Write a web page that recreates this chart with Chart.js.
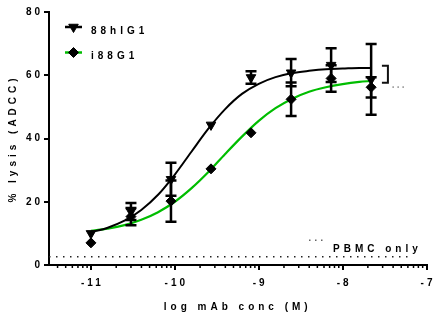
<!DOCTYPE html>
<html>
<head>
<meta charset="utf-8">
<script src="https://cdn.jsdelivr.net/npm/chart.js@4.4.1/dist/chart.umd.min.js"></script>
<style>
  html, body { margin: 0; padding: 0; background: #fff; }
</style>
</head>
<body>
<canvas id="chart1" width="433" height="322"></canvas>
<script>
// log10 mAb concentration (M), 3-fold dilutions
var doses = [-11, -10.523, -10.046, -9.569, -9.092, -8.614, -8.137, -7.66];

// 88hIG1: mean % lysis and error
var hig1Mean = [10.0, 16.9, 27.1, 44.3, 59.3, 60.8, 63.2, 58.7];
var hig1Err  = [0, 2.7, 5.2, 0, 2.0, 4.3, 5.3, 11.2];

// i88G1: mean % lysis and error
var ig1Mean = [7.0, 15.3, 20.2, 30.4, 41.8, 52.4, 59.0, 56.2];
var ig1Err  = [0, 2.7, 6.5, 0, 0, 5.3, 4.2, 3.2];

// fitted dose-response curves
var fitDoses = [-11, -10.8, -10.6, -10.4, -10.2, -10, -9.8, -9.6, -9.4, -9.2, -9, -8.8, -8.6, -8.4, -8.2, -8, -7.8, -7.66];
var hig1Fit  = [10.4, 11.8, 14.0, 17.4, 22.2, 28.6, 35.9, 43.1, 49.3, 54.1, 57.3, 59.4, 60.7, 61.4, 61.9, 62.1, 62.3, 62.3];
var ig1Fit   = [10.8, 11.5, 12.6, 14.3, 16.7, 20.0, 24.3, 29.4, 35.1, 40.6, 45.6, 49.6, 52.6, 54.8, 56.2, 57.2, 57.9, 58.2];

// PBMC only background
var pbmcDoses = [-11.5, -7.2];
var pbmcLysis = [2.6, 2.6];

var seriesNames = ['88hIG1', 'i88G1'];
var xTicks = [-11, -10, -9, -8, -7];
var xTickLabels = ['-11', '-10', '-9', '-8', '-7'];
var yTicks = [0, 20, 40, 60, 80];
var yTickLabels = ['0', '20', '40', '60', '80'];

var GREEN = '#00bd00';
var FONT = "'Liberation Sans', Arial, sans-serif";

function pts(xs, ys) {
  return xs.map(function(x, i) { return {x: x, y: ys[i]}; });
}

var extras = {
  id: 'extras',
  afterLayout: function(chart) {
    // titles get a little more letter spacing than tick labels
    Object.keys(chart.scales).forEach(function(k) {
      var s = chart.scales[k];
      if (s._spaced) return;
      var drawTitle = s.drawTitle;
      s.drawTitle = function() {
        var c = this.ctx, prev = c.letterSpacing;
        c.letterSpacing = '4px';
        drawTitle.apply(this, arguments);
        c.letterSpacing = prev;
      };
      s._spaced = true;
    });
  },
  beforeDraw: function(chart) {
    chart.ctx.letterSpacing = '3px';
  },
  beforeDatasetDraw: function(chart, args) {
    if (args.index !== 1) return;
    // error bars, under both marker sets
    var ctx = chart.ctx, xs = chart.scales.x, ys = chart.scales.y;
    ctx.save();
    ctx.strokeStyle = '#000';
    ctx.lineWidth = 2.5;
    [[hig1Mean, hig1Err], [ig1Mean, ig1Err]].forEach(function(s) {
      doses.forEach(function(d, i) {
        if (!s[1][i]) return;
        var px = xs.getPixelForValue(d);
        var top = ys.getPixelForValue(s[0][i] + s[1][i]);
        var bot = ys.getPixelForValue(s[0][i] - s[1][i]);
        ctx.beginPath();
        ctx.moveTo(px, top); ctx.lineTo(px, bot);
        ctx.moveTo(px - 5.5, top); ctx.lineTo(px + 5.5, top);
        ctx.moveTo(px - 5.5, bot); ctx.lineTo(px + 5.5, bot);
        ctx.stroke();
      });
    });
    ctx.restore();
  },
  afterDraw: function(chart) {
    var ctx = chart.ctx, xs = chart.scales.x, ys = chart.scales.y;
    var area = chart.chartArea;
    ctx.save();

    // minor log ticks on the x axis
    ctx.strokeStyle = '#000';
    ctx.lineWidth = 1.5;
    ctx.beginPath();
    for (var dec = -12; dec < -7; dec++) {
      for (var k = 2; k <= 9; k++) {
        var v = dec + Math.log10(k);
        if (v < xs.min || v > xs.max) continue;
        var px = xs.getPixelForValue(v);
        ctx.moveTo(px, area.bottom);
        ctx.lineTo(px, area.bottom + 3);
      }
    }
    ctx.stroke();

    // legend
    var ds = chart.data.datasets;
    var rows = [
      {y: 27, line: ds[2].borderColor, marker: ds[0], name: seriesNames[0]},
      {y: 52.5, line: ds[3].borderColor, marker: ds[1], name: seriesNames[1]}
    ];
    ctx.font = 'bold 10px ' + FONT;
    ctx.letterSpacing = '4px';
    ctx.textBaseline = 'alphabetic';
    ctx.textAlign = 'left';
    rows.forEach(function(r) {
      ctx.strokeStyle = r.line;
      ctx.lineWidth = 2.5;
      ctx.beginPath();
      ctx.moveTo(65, r.y); ctx.lineTo(82, r.y);
      ctx.stroke();
      ctx.fillStyle = '#000';
      ctx.strokeStyle = '#000';
      ctx.lineWidth = 1;
      Chart.helpers.drawPoint(ctx, {
        pointStyle: r.marker.pointStyle,
        rotation: r.marker.rotation || 0,
        radius: r.marker.pointRadius,
        borderWidth: 1
      }, 73.5, r.y);
      ctx.fillText(r.name, 91, r.y + 6.6);
    });

    // bracket between the two plateaus
    var bx = xs.getPixelForValue(-7.46);
    var bTop = ys.getPixelForValue(63);
    var bBot = ys.getPixelForValue(57.6);
    ctx.strokeStyle = '#111';
    ctx.lineWidth = 2;
    ctx.beginPath();
    ctx.moveTo(bx - 6, bTop); ctx.lineTo(bx, bTop);
    ctx.lineTo(bx, bBot); ctx.lineTo(bx - 6, bBot);
    ctx.stroke();
    ctx.fillStyle = '#888';
    [5, 10, 15].forEach(function(dx) { ctx.fillRect(bx + dx - 0.5, bBot + 3.5, 1.5, 1.5); });

    // PBMC only label
    ctx.fillStyle = '#666';
    [309, 315, 321].forEach(function(x) { ctx.fillRect(x, 239.5, 1.5, 1.5); });
    ctx.fillStyle = '#000';
    ctx.fillText('PBMC only', 333, 252.3);

    ctx.restore();
  }
};

var tickFont = {family: FONT, size: 10, weight: 'bold'};

var chart1 = new Chart(document.getElementById('chart1').getContext('2d'), {
  type: 'scatter',
  data: {
    datasets: [
      {
        label: seriesNames[0],
        data: pts(doses, hig1Mean),
        showLine: false,
        pointStyle: 'triangle',
        rotation: 180,
        pointRadius: 5.5,
        backgroundColor: '#000',
        borderColor: '#000',
        borderWidth: 1
      },
      {
        label: seriesNames[1],
        data: pts(doses, ig1Mean),
        showLine: false,
        pointStyle: 'rectRot',
        pointRadius: 5,
        backgroundColor: '#000',
        borderColor: '#000',
        borderWidth: 1
      },
      {
        label: seriesNames[0] + ' fit',
        data: pts(fitDoses, hig1Fit),
        showLine: true,
        pointRadius: 0,
        borderColor: '#000',
        borderWidth: 2,
        cubicInterpolationMode: 'monotone'
      },
      {
        label: seriesNames[1] + ' fit',
        data: pts(fitDoses, ig1Fit),
        showLine: true,
        pointRadius: 0,
        borderColor: GREEN,
        borderWidth: 2.2,
        cubicInterpolationMode: 'monotone'
      },
      {
        label: 'PBMC only',
        data: pts(pbmcDoses, pbmcLysis),
        showLine: true,
        pointRadius: 0,
        borderColor: '#222',
        borderWidth: 1.5,
        borderDash: [1.5, 5.5]
      }
    ]
  },
  options: {
    responsive: false,
    animation: false,
    devicePixelRatio: 1,
    events: [],
    layout: {padding: {top: 12, right: 3, left: 0, bottom: 0}},
    plugins: {legend: {display: false}, tooltip: {enabled: false}},
    scales: {
      x: {
        type: 'linear',
        min: -11.5,
        max: -7,
        afterBuildTicks: function(s) { s.ticks = xTicks.map(function(v) { return {value: v}; }); },
        afterFit: function(s) { s.height = 57; s.paddingLeft = 0; s.paddingRight = 0; },
        ticks: {
          callback: function(v, i) { return xTickLabels[i]; },
          color: '#000',
          font: tickFont,
          padding: 7,
          labelOffset: 1.5,
          maxRotation: 0,
          autoSkip: false
        },
        grid: {drawOnChartArea: false, drawTicks: true, tickLength: 5, color: '#000', lineWidth: 2},
        border: {color: '#000', width: 2},
        title: {
          display: true,
          text: 'log mAb conc (M)',
          color: '#000',
          font: {family: FONT, size: 10, weight: 'bold'},
          padding: {top: 0, bottom: 9}
        }
      },
      y: {
        min: 0,
        max: 80,
        afterBuildTicks: function(s) { s.ticks = yTicks.map(function(v) { return {value: v}; }); },
        afterFit: function(s) { s.width = 49; },
        ticks: {
          callback: function(v, i) { return yTickLabels[i]; },
          color: '#000',
          font: tickFont,
          padding: 1
        },
        grid: {drawOnChartArea: false, drawTicks: true, tickLength: 5, color: '#000', lineWidth: 2},
        border: {color: '#000', width: 2},
        title: {
          display: true,
          text: '% lysis (ADCC)',
          color: '#000',
          font: {family: FONT, size: 10, weight: 'bold'},
          padding: {top: 7, bottom: 0}
        }
      }
    }
  },
  plugins: [extras]
});
</script>
</body>
</html>
